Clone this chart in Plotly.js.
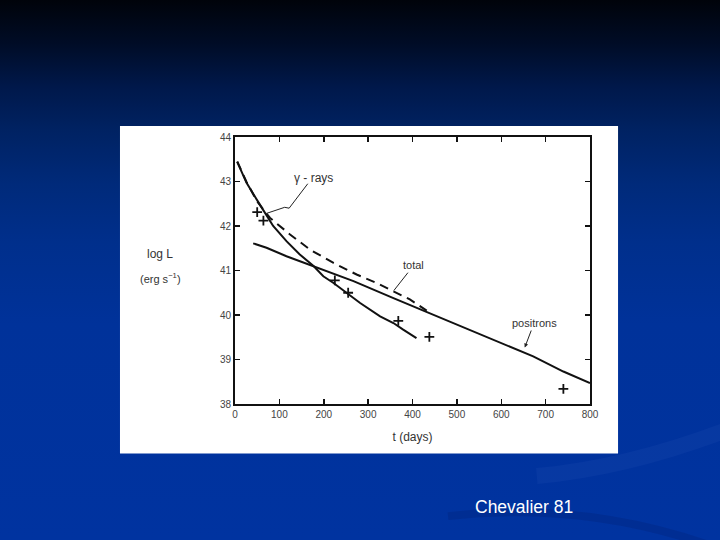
<!DOCTYPE html>
<html>
<head>
<meta charset="utf-8">
<script src="https://cdn.plot.ly/plotly-3.0.1.min.js"></script>
<style>
html,body{margin:0;padding:0;width:720px;height:540px;overflow:hidden;
background:linear-gradient(to bottom,#00030a 0%,#000c26 8%,#00184a 16%,#002262 24%,#002a7a 34%,#002f8c 45%,#00329a 60%,#0033a0 100%);}
#chart{width:720px;height:540px;}
</style>
</head>
<body>
<div id="chart"></div>
<script>
// gamma-ray deposition (solid)
const gammaT = [5, 26, 56, 86, 116, 146, 177, 199, 222, 252, 282, 327, 357, 379, 409];
const gammaL = [43.44, 42.97, 42.48, 42.0, 41.66, 41.36, 41.10, 40.87, 40.72, 40.50, 40.27, 39.97, 39.82, 39.67, 39.48];
// total (dashed)
const totalT = [5, 26, 50, 79, 124, 169, 222, 274, 319, 357, 394, 432];
const totalL = [43.45, 42.99, 42.55, 42.18, 41.81, 41.47, 41.17, 40.91, 40.72, 40.53, 40.35, 40.10];
// positrons (solid)
const posT = [41, 71, 116, 177, 267, 357, 447, 545, 672, 740, 800];
const posL = [41.61, 41.51, 41.32, 41.10, 40.76, 40.38, 40.01, 39.60, 39.07, 38.73, 38.47];
// observed points (+)
const obsT = [50, 64, 225, 255, 368, 438, 740];
const obsL = [42.31, 42.12, 40.78, 40.50, 39.87, 39.51, 38.34];
// ticks
const xTicks = [0, 100, 200, 300, 400, 500, 600, 700, 800];
const yTicks = [38, 39, 40, 41, 42, 43, 44];

const fam = 'Liberation Sans, Arial, sans-serif';
const tickFont = {family: fam, size: 10, color: '#444'};
const lblFont = {family: fam, size: 11, color: '#333'};

const traces = [
  {x: gammaT, y: gammaL, mode: 'lines', line: {color: '#111', width: 2}, name: 'γ-rays'},
  {x: totalT, y: totalL, mode: 'lines', line: {color: '#111', width: 2, dash: '9px,6px'}, name: 'total'},
  {x: posT, y: posL, mode: 'lines', line: {color: '#111', width: 2}, name: 'positrons'},
  {x: obsT, y: obsL, mode: 'markers', name: 'obs',
   marker: {symbol: 'cross-thin', size: 7, color: '#111', line: {color: '#111', width: 1.8}}}
];

const axisCommon = {
  showgrid: false, zeroline: false, showline: true, linecolor: '#111', linewidth: 2,
  mirror: 'ticks', ticks: 'inside', ticklen: 5, tickwidth: 1.5, tickcolor: '#111',
  tickfont: tickFont, tickmode: 'array'
};

const layout = {
  width: 720, height: 540,
  margin: {l: 235, r: 130, t: 137, b: 136},
  paper_bgcolor: 'rgba(0,0,0,0)',
  plot_bgcolor: '#fff',
  showlegend: false,
  xaxis: Object.assign({}, axisCommon, {range: [0, 800], tickvals: xTicks, ticktext: xTicks.map(String),
    title: {text: 't (days)', font: {family: fam, size: 12, color: '#333'}, standoff: 14}}),
  yaxis: Object.assign({}, axisCommon, {range: [38, 44], tickvals: yTicks, ticktext: yTicks.map(String)}),
  shapes: [
    {type: 'rect', xref: 'paper', yref: 'paper', x0: -0.324, x1: 1.079, y0: -0.185, y1: 1.041,
     fillcolor: '#fff', line: {width: 0}, layer: 'below'},
    {type: 'path', xref: 'paper', yref: 'paper', layer: 'below',
     path: 'M 0.85 -0.27 Q 1.1 -0.24 1.38 -0.10', line: {color: 'rgba(120,160,230,0.06)', width: 16}},
    {type: 'path', xref: 'paper', yref: 'paper', layer: 'below',
     path: 'M 0.60 -0.42 Q 1.0 -0.36 1.38 -0.55', line: {color: 'rgba(0,20,90,0.18)', width: 8}},
    // gamma-ray leader line
    {type: 'path', xref: 'x', yref: 'y',
     path: 'M 164 42.95 L 122 42.40 L 112 42.42 L 70 42.28', line: {color: '#222', width: 1}}
  ],
  annotations: [
    {x: 176, y: 43.08, xref: 'x', yref: 'y', text: 'γ - rays', showarrow: false,
     xanchor: 'center', yanchor: 'middle', font: {family: fam, size: 12, color: '#333'}},
    {x: 358, y: 40.55, ax: 403, ay: 41.12, axref: 'x', ayref: 'y', xref: 'x', yref: 'y', text: 'total',
     showarrow: true, arrowhead: 0, arrowwidth: 1, arrowcolor: '#222', font: lblFont},
    {x: 653, y: 39.27, ax: 674, ay: 39.82, axref: 'x', ayref: 'y', xref: 'x', yref: 'y', text: 'positrons',
     showarrow: true, arrowhead: 2, arrowsize: 0.8, arrowwidth: 1, arrowcolor: '#222', font: lblFont},
    {x: -0.211, y: 0.563, xref: 'paper', yref: 'paper', text: 'log L', showarrow: false,
     xanchor: 'center', yanchor: 'middle', font: {family: fam, size: 12, color: '#333'}},
    {x: -0.211, y: 0.472, xref: 'paper', yref: 'paper', text: '(erg s<sup>−1</sup>)', showarrow: false,
     xanchor: 'center', yanchor: 'middle', font: lblFont},
    {x: 0.814, y: -0.384, xref: 'paper', yref: 'paper', text: 'Chevalier 81', showarrow: false,
     xanchor: 'center', yanchor: 'middle', font: {family: fam, size: 17.5, color: '#ffffff'}}
  ]
};

Plotly.newPlot('chart', traces, layout, {displayModeBar: false, staticPlot: true});
</script>
</body>
</html>
